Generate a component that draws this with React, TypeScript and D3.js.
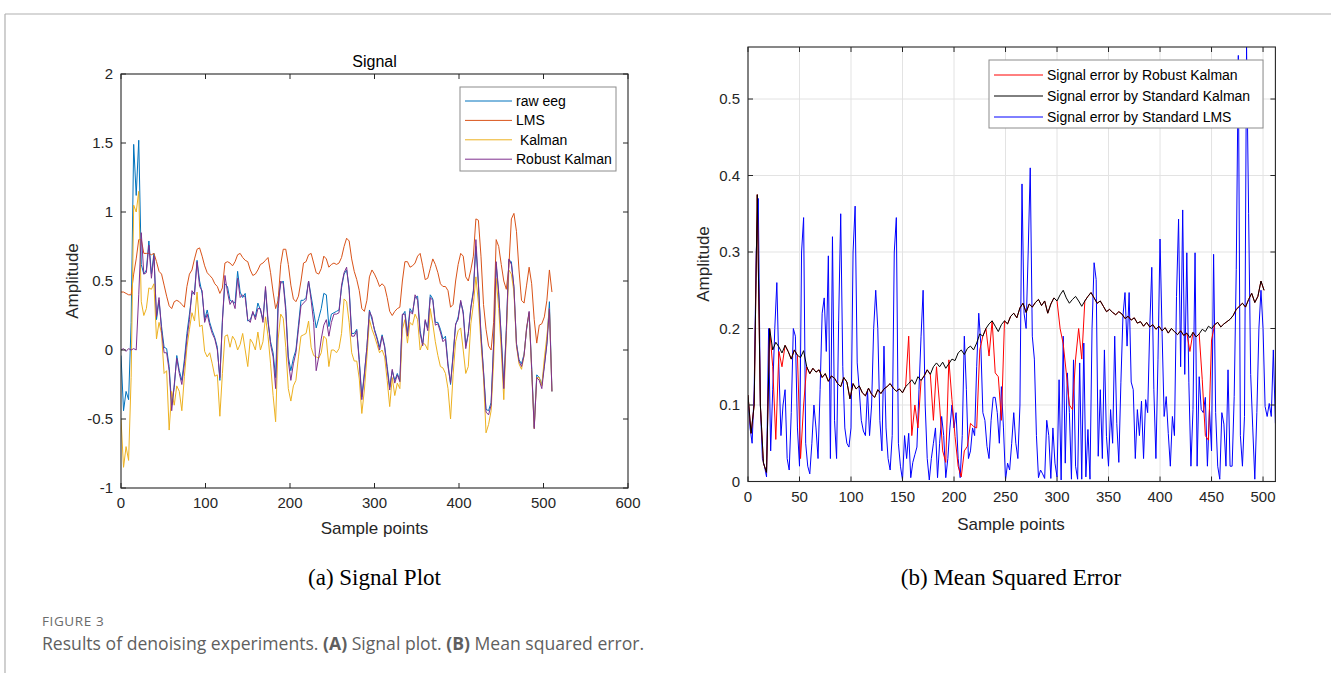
import React from 'react';
import * as d3 from 'd3';

// ---------------- Data: (a) Signal plot, samples every 3 points (0..510) ----------------
const signalStep = 3;
const rawEeg = [
  -0.04, -0.44, -0.30, -0.36, 0.20, 1.49, 1.12, 1.52, 0.62, 0.55,
  0.58, 0.79, 0.55, 0.70, 0.22, 0.36, 0.17, 0.02, 0.01, -0.12,
  -0.40, -0.27, -0.04, -0.15, -0.22, -0.07, 0.12, 0.26, 0.41, 0.42,
  0.65, 0.50, 0.41, 0.22, 0.29, 0.20, 0.14, 0.09, 0.02, -0.22,
  0.22, 0.48, 0.46, 0.36, 0.35, 0.34, 0.57, 0.42, 0.38, 0.41,
  0.21, 0.22, 0.27, 0.24, 0.34, 0.29, 0.22, 0.44, 0.20, 0.06,
  -0.02, -0.20, 0.38, 0.48, 0.50, 0.31, -0.05, -0.15, -0.06, 0.00,
  0.18, 0.36, 0.36, 0.38, 0.50, 0.39, 0.28, 0.16, 0.23, 0.30,
  0.41, 0.40, 0.17, 0.26, 0.27, 0.28, 0.29, 0.45, 0.55, 0.58,
  0.45, 0.12, 0.12, 0.15, -0.07, -0.34, -0.17, 0.02, 0.29, 0.22,
  0.15, 0.09, 0.02, 0.11, 0.03, -0.12, -0.27, -0.15, -0.22, -0.17,
  -0.22, 0.25, 0.28, 0.12, 0.30, 0.27, 0.38, 0.39, 0.14, 0.04,
  0.21, 0.16, 0.40, 0.37, 0.20, 0.20, 0.15, 0.08, 0.10, -0.10,
  -0.25, -0.03, 0.18, 0.24, 0.35, 0.28, 0.03, 0.12, 0.31, 0.43,
  0.75, 0.47, 0.12, -0.15, -0.43, -0.44, -0.38, 0.05, 0.62, 0.40,
  0.10, -0.25, 0.15, 0.65, 0.64, 0.45, 0.05, -0.07, -0.10, -0.03,
  0.15, 0.27, -0.12, -0.56, -0.18, -0.20, -0.25, -0.11, 0.05, 0.35,
  -0.30,
];
const lmsSignal = [
  0.42, 0.42, 0.41, 0.40, 0.40, 0.55, 0.66, 0.80, 0.80, 0.70,
  0.70, 0.70, 0.69, 0.70, 0.64, 0.57, 0.55, 0.47, 0.39, 0.32,
  0.30, 0.35, 0.36, 0.35, 0.33, 0.31, 0.46, 0.55, 0.58, 0.66,
  0.73, 0.74, 0.68, 0.61, 0.56, 0.54, 0.52, 0.48, 0.46, 0.41,
  0.45, 0.63, 0.64, 0.63, 0.61, 0.64, 0.69, 0.70, 0.67, 0.65,
  0.64, 0.58, 0.54, 0.55, 0.58, 0.62, 0.63, 0.65, 0.67, 0.56,
  0.42, 0.30, 0.36, 0.62, 0.73, 0.73, 0.62, 0.47, 0.37, 0.35,
  0.39, 0.50, 0.63, 0.64, 0.69, 0.70, 0.63, 0.56, 0.55, 0.59,
  0.68, 0.66, 0.60, 0.62, 0.63, 0.62, 0.63, 0.67, 0.75, 0.81,
  0.79, 0.66, 0.57, 0.51, 0.43, 0.30, 0.28, 0.36, 0.53, 0.58,
  0.55, 0.51, 0.46, 0.48, 0.46, 0.38, 0.28, 0.25, 0.28, 0.30,
  0.31, 0.50, 0.64, 0.64, 0.60, 0.61, 0.63, 0.68, 0.70, 0.61,
  0.51, 0.52, 0.59, 0.66, 0.62, 0.56, 0.48, 0.46, 0.46, 0.43,
  0.31, 0.33, 0.50, 0.62, 0.70, 0.68, 0.53, 0.50, 0.58, 0.68,
  0.95, 0.94, 0.68, 0.33, 0.15, 0.03, 0.00, 0.20, 0.80, 0.75,
  0.62, 0.50, 0.44, 0.60, 0.95, 0.99, 0.86, 0.58, 0.36, 0.34,
  0.47, 0.60, 0.48, 0.22, 0.05, 0.18, 0.19, 0.24, 0.36, 0.58,
  0.42,
];
const kalmanSignal = [
  -0.50, -0.85, -0.70, -0.80, -0.20, 1.05, 1.00, 1.15, 0.35, 0.25,
  0.30, 0.45, 0.44, 0.48, 0.08, 0.20, 0.12, -0.17, -0.15, -0.58,
  -0.30, -0.40, -0.26, -0.30, -0.44, -0.19, 0.02, 0.15, 0.27, 0.21,
  0.42, 0.17, 0.18, -0.01, -0.05, -0.02, -0.10, -0.19, -0.18, -0.48,
  -0.17, 0.10, 0.11, 0.02, 0.10, 0.07, 0.00, 0.04, 0.12, 0.00,
  -0.12, 0.08, 0.05, 0.00, 0.13, 0.00, 0.06, 0.24, 0.10, -0.10,
  -0.33, -0.52, 0.08, 0.26, 0.23, 0.02, -0.28, -0.37, -0.26, -0.22,
  -0.05, 0.10, 0.11, 0.12, 0.21, 0.02, -0.04, -0.05, -0.06, -0.02,
  0.10, 0.08, -0.12, 0.00, 0.00, -0.02, 0.01, 0.12, 0.37, 0.35,
  0.20, -0.02, -0.08, -0.08, -0.21, -0.46, -0.29, -0.05, 0.22, 0.15,
  0.10, 0.04, -0.02, 0.00, -0.05, -0.22, -0.41, -0.20, -0.33, -0.24,
  -0.28, 0.15, 0.22, 0.05, 0.20, 0.18, 0.26, 0.22, 0.00, 0.05,
  0.04, 0.00, 0.30, 0.19, 0.06, -0.04, -0.12, -0.13, -0.17, -0.28,
  -0.50, -0.18, 0.06, 0.14, 0.16, 0.00, -0.17, -0.12, 0.19, 0.33,
  0.53, 0.34, 0.05, -0.20, -0.60, -0.54, -0.44, -0.08, 0.52, 0.30,
  0.00, -0.36, 0.10, 0.58, 0.55, 0.42, 0.03, -0.10, -0.14, -0.04,
  0.16, 0.27, -0.15, -0.57, -0.20, -0.20, -0.26, -0.06, 0.10, 0.30,
  -0.30,
];
const robustKalmanSignal = [
  0.00, 0.01, -0.01, 0.01, 0.00, 0.01, 0.00, 0.40, 0.85, 0.55,
  0.56, 0.76, 0.52, 0.68, 0.24, 0.38, 0.14, -0.02, -0.02, -0.15,
  -0.44, -0.25, -0.06, -0.17, -0.25, -0.10, 0.08, 0.22, 0.43, 0.40,
  0.64, 0.46, 0.43, 0.20, 0.26, 0.18, 0.12, 0.08, 0.00, -0.20,
  0.20, 0.54, 0.42, 0.33, 0.36, 0.30, 0.52, 0.38, 0.40, 0.38,
  0.22, 0.20, 0.28, 0.22, 0.30, 0.30, 0.20, 0.46, 0.22, 0.04,
  -0.05, -0.28, 0.30, 0.50, 0.48, 0.28, -0.08, -0.22, -0.10, -0.02,
  0.15, 0.32, 0.34, 0.36, 0.50, 0.36, 0.20, -0.15, -0.05, 0.08,
  0.18, 0.22, 0.10, 0.20, 0.26, 0.26, 0.27, 0.47, 0.56, 0.60,
  0.43, 0.10, 0.10, 0.14, -0.09, -0.36, -0.18, 0.02, 0.28, 0.24,
  0.14, 0.08, 0.00, 0.10, 0.02, -0.14, -0.29, -0.14, -0.24, -0.18,
  -0.23, 0.26, 0.26, 0.10, 0.28, 0.26, 0.40, 0.36, 0.12, 0.03,
  0.22, 0.14, 0.38, 0.36, 0.18, 0.19, 0.13, 0.06, 0.08, -0.12,
  -0.24, -0.05, 0.19, 0.22, 0.36, 0.26, 0.01, 0.12, 0.30, 0.42,
  0.80, 0.48, 0.10, -0.16, -0.45, -0.47, -0.40, 0.04, 0.64, 0.42,
  0.08, -0.28, 0.14, 0.66, 0.62, 0.46, 0.04, -0.08, -0.12, -0.04,
  0.16, 0.28, -0.14, -0.57, -0.20, -0.22, -0.28, -0.12, 0.04, 0.30,
  -0.30,
];

// ---------------- Data: (b) Mean squared error ----------------
const lmsErrorStep = 2; // samples 0..512
const lmsError = [
  0.11, 0.07, 0.05, 0.12, 0.30, 0.37, 0.10, 0.03, 0.02, 0.006,
  0.20, 0.04, 0.12, 0.20, 0.26, 0.15, 0.06, 0.10, 0.12, 0.03,
  0.015, 0.09, 0.20, 0.19, 0.07, 0.02, 0.30, 0.345, 0.05, 0.02,
  0.01, 0.05, 0.10, 0.07, 0.03, 0.12, 0.22, 0.24, 0.17, 0.295,
  0.03, 0.32, 0.08, 0.03, 0.21, 0.35, 0.15, 0.07, 0.05, 0.045,
  0.07, 0.30, 0.36, 0.155, 0.12, 0.08, 0.066, 0.06, 0.12, 0.06,
  0.10, 0.20, 0.25, 0.20, 0.08, 0.04, 0.177, 0.07, 0.03, 0.015,
  0.06, 0.30, 0.345, 0.05, 0.02, 0.002, 0.06, 0.03, 0.063, 0.005,
  0.025, 0.035, 0.045, 0.12, 0.19, 0.25, 0.10, 0.03, 0.002, 0.03,
  0.05, 0.07, 0.005, 0.05, 0.085, 0.06, 0.005, 0.03, 0.07, 0.10,
  0.07, 0.09, 0.03, 0.005, 0.06, 0.19, 0.12, 0.03, 0.04, 0.07,
  0.06, 0.15, 0.22, 0.18, 0.09, 0.08, 0.046, 0.03, 0.08, 0.11,
  0.11, 0.09, 0.05, 0.124, 0.07, 0.002, 0.024, 0.015, 0.05, 0.09,
  0.05, 0.03, 0.10, 0.389, 0.22, 0.20, 0.30, 0.41, 0.19, 0.16,
  0.06, 0.005, 0.015, 0.01, 0.004, 0.08, 0.06, 0.004, 0.07, 0.024,
  0.006, 0.133, 0.002, 0.19, 0.024, 0.142, 0.09, 0.003, 0.159, 0.02,
  0.003, 0.155, 0.003, 0.181, 0.006, 0.068, 0.003, 0.20, 0.286, 0.264,
  0.033, 0.12, 0.03, 0.172, 0.059, 0.02, 0.094, 0.05, 0.19, 0.076,
  0.025, 0.129, 0.216, 0.247, 0.177, 0.247, 0.13, 0.12, 0.03, 0.094,
  0.06, 0.105, 0.03, 0.107, 0.09, 0.20, 0.28, 0.12, 0.03, 0.159,
  0.317, 0.194, 0.085, 0.111, 0.063, 0.02, 0.085, 0.06, 0.242, 0.343,
  0.15, 0.355, 0.14, 0.299, 0.129, 0.02, 0.094, 0.299, 0.02, 0.137,
  0.094, 0.09, 0.11, 0.02, 0.094, 0.04, 0.297, 0.09, 0.02, 0.003,
  0.09, 0.075, 0.02, 0.146, 0.02, 0.02, 0.111, 0.277, 0.557, 0.06,
  0.02, 0.085, 0.568, 0.35, 0.14, 0.07, 0.003, 0.09, 0.20, 0.25,
  0.20, 0.098, 0.085, 0.102, 0.085, 0.172, 0.076,
];
const kalmanErrorStep = 3; // samples 0..501
const kalmanError = [
  0.113, 0.063, 0.10, 0.375, 0.10, 0.024, 0.012, 0.200, 0.172, 0.182,
  0.176, 0.168, 0.178, 0.170, 0.160, 0.172, 0.165, 0.162, 0.171, 0.150,
  0.141, 0.148, 0.143, 0.146, 0.136, 0.141, 0.131, 0.138, 0.135, 0.128,
  0.124, 0.136, 0.130, 0.108, 0.128, 0.121, 0.125, 0.116, 0.112, 0.122,
  0.114, 0.110, 0.120, 0.115, 0.121, 0.124, 0.128, 0.122, 0.118, 0.121,
  0.116, 0.124, 0.128, 0.133, 0.127, 0.137, 0.132, 0.138, 0.146, 0.140,
  0.150, 0.155, 0.150, 0.156, 0.148, 0.154, 0.160, 0.158, 0.168, 0.172,
  0.166, 0.174, 0.177, 0.172, 0.181, 0.193, 0.190, 0.200, 0.206, 0.210,
  0.203, 0.196, 0.205, 0.210, 0.206, 0.216, 0.220, 0.214, 0.227, 0.233,
  0.221, 0.232, 0.228, 0.234, 0.238, 0.230, 0.236, 0.220, 0.232, 0.240,
  0.236, 0.244, 0.250, 0.240, 0.233, 0.238, 0.242, 0.236, 0.229, 0.236,
  0.242, 0.247, 0.240, 0.233, 0.236, 0.229, 0.222, 0.225, 0.221, 0.218,
  0.222, 0.219, 0.213, 0.216, 0.211, 0.214, 0.207, 0.209, 0.203, 0.208,
  0.202, 0.205, 0.199, 0.203, 0.197, 0.201, 0.194, 0.200, 0.196, 0.192,
  0.197, 0.191, 0.194, 0.188, 0.195, 0.189, 0.193, 0.199, 0.196, 0.203,
  0.200, 0.205, 0.208, 0.202, 0.206, 0.209, 0.212, 0.217, 0.225, 0.229,
  0.233, 0.228, 0.238, 0.246, 0.234, 0.242, 0.262, 0.250,
];
const robustKalmanError = [
  0.113, 0.063, 0.10, 0.375, 0.10, 0.024, 0.012, 0.200, 0.150, 0.055,
  0.170, 0.150, 0.178, 0.170, 0.160, 0.172, 0.165, 0.030, 0.100, 0.150,
  0.141, 0.148, 0.143, 0.146, 0.136, 0.141, 0.131, 0.138, 0.135, 0.128,
  0.124, 0.136, 0.130, 0.108, 0.128, 0.121, 0.125, 0.116, 0.112, 0.122,
  0.114, 0.110, 0.120, 0.115, 0.121, 0.124, 0.128, 0.122, 0.118, 0.121,
  0.116, 0.124, 0.190, 0.060, 0.100, 0.070, 0.132, 0.138, 0.146, 0.140,
  0.080, 0.150, 0.100, 0.040, 0.025, 0.159, 0.107, 0.059, 0.020, 0.006,
  0.040, 0.046, 0.076, 0.072, 0.070, 0.172, 0.190, 0.200, 0.164, 0.210,
  0.142, 0.137, 0.080, 0.210, 0.206, 0.216, 0.220, 0.214, 0.227, 0.233,
  0.221, 0.232, 0.228, 0.234, 0.238, 0.230, 0.236, 0.220, 0.232, 0.240,
  0.236, 0.200, 0.180, 0.142, 0.100, 0.094, 0.160, 0.200, 0.160, 0.236,
  0.242, 0.247, 0.240, 0.233, 0.236, 0.229, 0.222, 0.225, 0.221, 0.218,
  0.222, 0.219, 0.213, 0.216, 0.211, 0.214, 0.207, 0.209, 0.203, 0.208,
  0.202, 0.205, 0.199, 0.203, 0.197, 0.201, 0.194, 0.200, 0.196, 0.192,
  0.197, 0.191, 0.194, 0.170, 0.195, 0.189, 0.193, 0.133, 0.060, 0.054,
  0.185, 0.205, 0.208, 0.202, 0.206, 0.209, 0.212, 0.217, 0.225, 0.229,
  0.233, 0.228, 0.238, 0.246, 0.234, 0.242, 0.262, 0.250,
];

// ---------------- Ticks & labels ----------------
const signalXTicks = [0, 100, 200, 300, 400, 500, 600];
const signalYTicks = [-1, -0.5, 0, 0.5, 1, 1.5, 2];
const errorXTicks = [0, 50, 100, 150, 200, 250, 300, 350, 400, 450, 500];
const errorYTicks = [0, 0.1, 0.2, 0.3, 0.4, 0.5];
const signalLegend = ['raw eeg', 'LMS', ' Kalman', 'Robust Kalman'];
const errorLegend = ['Signal error by Robust Kalman', 'Signal error by Standard Kalman', 'Signal error by Standard LMS'];

const SANS = "'Liberation Sans', Arial, Helvetica, sans-serif";
const SERIF = "'Liberation Serif', 'Times New Roman', serif";
const CAPTION = "'Open Sans', Lato, sans-serif";
const AX = '#262626';

function fmt(v: number) {
  return String(Math.round(v * 10) / 10);
}

function GridLines({ x, y, xTicks, yTicks }: any) {
  const [x0, x1] = x.range();
  const [y0, y1] = y.range();
  return (
    <g stroke="#e3e3e3" strokeWidth={1}>
      {xTicks.map((t: number) => (
        <line key={'gx' + t} x1={x(t)} x2={x(t)} y1={y1} y2={y0} />
      ))}
      {yTicks.map((t: number) => (
        <line key={'gy' + t} x1={x0} x2={x1} y1={y(t)} y2={y(t)} />
      ))}
    </g>
  );
}

function AxesOverlay({ x, y, xTicks, yTicks }: any) {
  const [x0, x1] = x.range();
  const [y0, y1] = y.range();
  const tl = 5;
  return (
    <g>
      <rect x={x0} y={y1} width={x1 - x0} height={y0 - y1} fill="none" stroke={AX} strokeWidth={1.1} />
      <g stroke={AX} strokeWidth={1}>
        {xTicks.map((t: number) => (
          <g key={'tx' + t}>
            <line x1={x(t)} x2={x(t)} y1={y0} y2={y0 - tl} />
            <line x1={x(t)} x2={x(t)} y1={y1} y2={y1 + tl} />
          </g>
        ))}
        {yTicks.map((t: number) => (
          <g key={'ty' + t}>
            <line x1={x0} x2={x0 + tl} y1={y(t)} y2={y(t)} />
            <line x1={x1} x2={x1 - tl} y1={y(t)} y2={y(t)} />
          </g>
        ))}
      </g>
      <g fill={AX} fontFamily={SANS} fontSize={15}>
        {xTicks.map((t: number) => (
          <text key={'lx' + t} x={x(t)} y={y0 + 20} textAnchor="middle">
            {fmt(t)}
          </text>
        ))}
        {yTicks.map((t: number) => (
          <text key={'ly' + t} x={x0 - 8} y={y(t)} dy="0.35em" textAnchor="end">
            {fmt(t)}
          </text>
        ))}
      </g>
    </g>
  );
}

export default function App() {
  // (a) Signal plot scales
  const xs = d3.scaleLinear().domain([0, 600]).range([121, 628]);
  const ys = d3.scaleLinear().domain([-1, 2]).range([488, 74]);
  // (b) MSE scales
  const xe = d3.scaleLinear().domain([0, 512]).range([748, 1275.4]);
  const ye = d3.scaleLinear().domain([0, 0.568]).range([481.5, 47]);

  const sigLine = d3
    .line<number>()
    .x((_, i) => xs(i * signalStep))
    .y((d) => ys(d));
  const lmsErrLine = d3
    .line<number>()
    .x((_, i) => xe(i * lmsErrorStep))
    .y((d) => ye(d));
  const kalErrLine = d3
    .line<number>()
    .x((_, i) => xe(i * kalmanErrorStep))
    .y((d) => ye(d));

  const signalSeries = [
    { data: rawEeg, color: '#0072BD' },
    { data: lmsSignal, color: '#D95319' },
    { data: kalmanSignal, color: '#EDB120' },
    { data: robustKalmanSignal, color: '#7E2F8E' },
  ];
  const errorSeries = [
    { data: lmsError, color: '#0000FF', line: lmsErrLine },
    { data: robustKalmanError, color: '#FF0000', line: kalErrLine },
    { data: kalmanError, color: '#000000', line: kalErrLine },
  ];
  const errorLegendColors = ['#FF0000', '#000000', '#0000FF'];

  return (
    <svg
      width={1331}
      height={673}
      viewBox="0 0 1331 673"
      style={{ position: 'absolute', left: 0, top: 0, display: 'block', background: '#fff' }}
    >
      <defs>
        <clipPath id="clipA">
          <rect x={121} y={74} width={507} height={414} />
        </clipPath>
        <clipPath id="clipB">
          <rect x={748} y={47} width={527.4} height={434.5} />
        </clipPath>
      </defs>
      {/* page frame */}
      <line x1={5} x2={1331} y1={14} y2={14} stroke="#b0b0b0" strokeWidth={1.2} />
      <line x1={5} x2={5} y1={14} y2={673} stroke="#b0b0b0" strokeWidth={1.2} />

      {/* ===== (a) Signal ===== */}
      <g clipPath="url(#clipA)" fill="none" strokeWidth={1} strokeLinejoin="round">
        {signalSeries.map((s, i) => (
          <path key={i} d={sigLine(s.data) || ''} stroke={s.color} />
        ))}
      </g>
      <AxesOverlay x={xs} y={ys} xTicks={signalXTicks} yTicks={signalYTicks} />
      <text x={374.5} y={67} textAnchor="middle" fontFamily={SANS} fontSize={16} fill="#000">
        Signal
      </text>
      <text x={374.5} y={534} textAnchor="middle" fontFamily={SANS} fontSize={17} fill={AX}>
        Sample points
      </text>
      <text
        transform={`translate(78,281) rotate(-90)`}
        textAnchor="middle"
        fontFamily={SANS}
        fontSize={17}
        fill={AX}
      >
        Amplitude
      </text>
      <g>
        <rect x={460} y={87} width={156} height={84} fill="#fff" stroke="#8c8c8c" strokeWidth={1} />
        {signalLegend.map((label, i) => {
          const yy = 101 + i * 19.4;
          return (
            <g key={label}>
              <line x1={465} x2={512} y1={yy} y2={yy} stroke={signalSeries[i].color} strokeWidth={1} />
              <text x={516} y={yy} dy="0.35em" fontFamily={SANS} fontSize={14} fill="#000" style={{ whiteSpace: 'pre' }}>
                {label}
              </text>
            </g>
          );
        })}
      </g>

      {/* ===== (b) Mean Squared Error ===== */}
      <GridLines x={xe} y={ye} xTicks={errorXTicks} yTicks={errorYTicks} />
      <g clipPath="url(#clipB)" fill="none" strokeWidth={1} strokeLinejoin="round">
        {errorSeries.map((s, i) => (
          <path key={i} d={s.line(s.data) || ''} stroke={s.color} />
        ))}
      </g>
      <AxesOverlay x={xe} y={ye} xTicks={errorXTicks} yTicks={errorYTicks} />
      <text x={1011} y={530} textAnchor="middle" fontFamily={SANS} fontSize={17} fill={AX}>
        Sample points
      </text>
      <text
        transform={`translate(709,264) rotate(-90)`}
        textAnchor="middle"
        fontFamily={SANS}
        fontSize={17}
        fill={AX}
      >
        Amplitude
      </text>
      <g>
        <rect x={989} y={60} width={274} height={68} fill="#fff" stroke="#8c8c8c" strokeWidth={1} />
        {errorLegend.map((label, i) => {
          const yy = 75 + i * 21;
          return (
            <g key={label}>
              <line x1={994} x2={1043} y1={yy} y2={yy} stroke={errorLegendColors[i]} strokeWidth={1} />
              <text x={1047} y={yy} dy="0.35em" fontFamily={SANS} fontSize={14} fill="#000">
                {label}
              </text>
            </g>
          );
        })}
      </g>

      {/* captions */}
      <text x={374.5} y={585} textAnchor="middle" fontFamily={SERIF} fontSize={23} fill="#000">
        (a) Signal Plot
      </text>
      <text x={1011} y={585} textAnchor="middle" fontFamily={SERIF} fontSize={23} fill="#000">
        (b) Mean Squared Error
      </text>
      <text x={42} y={626} fontFamily={CAPTION} fontSize={13.5} fill="#6b6b6b" letterSpacing={0.6}>
        FIGURE 3
      </text>
      <text x={42} y={650} fontFamily={CAPTION} fontSize={17.6} fill="#5f5f5f">
        Results of denoising experiments. <tspan fontWeight={700}>(A)</tspan> Signal plot.{' '}
        <tspan fontWeight={700}>(B)</tspan> Mean squared error.
      </text>
    </svg>
  );
}
